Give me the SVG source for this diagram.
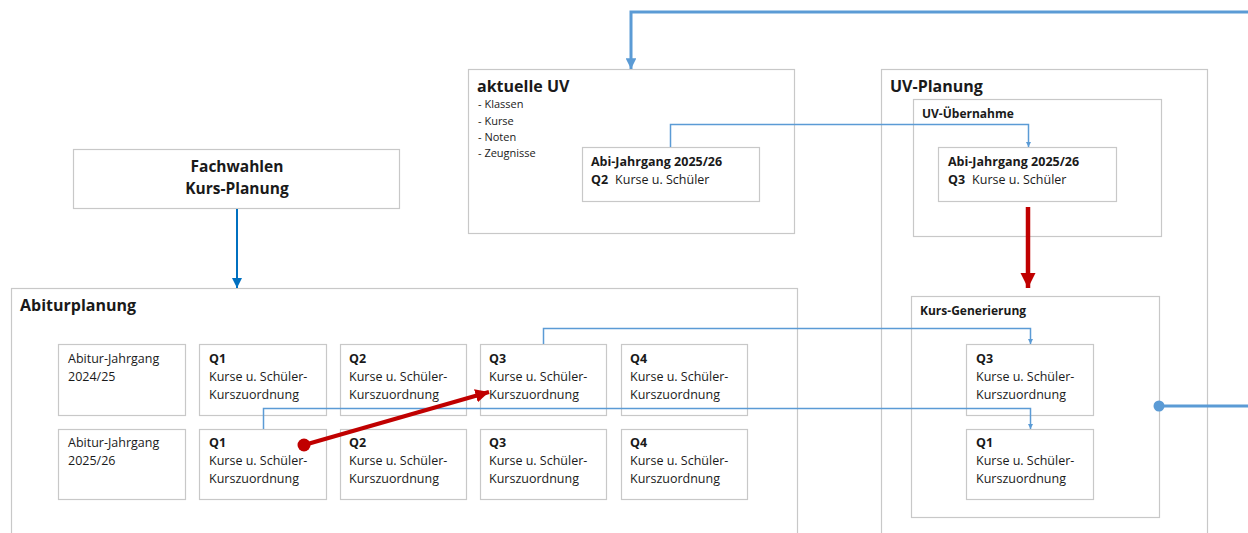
<svg xmlns="http://www.w3.org/2000/svg" width="1248" height="533" viewBox="0 0 1248 533">
<style>
.box{fill:#fff;stroke:#c8c8c8;stroke-width:1.2}
.t{font-family:"Open Sans","Liberation Sans",sans-serif;fill:#1a1a1a}
.n{font-size:12.5px}
.b{font-weight:bold}
.h{font-size:16px;font-weight:bold}
.s{font-size:11px}
.sb{font-size:12px;font-weight:bold}
.bl{fill:none;stroke:#5b9bd5}
</style>
<defs>
<marker id="ab" viewBox="0 0 10 10" refX="10" refY="5" markerWidth="5" markerHeight="5" markerUnits="userSpaceOnUse" orient="auto"><path d="M0,0L10,5L0,10z" fill="#5b9bd5"/></marker>
<marker id="ab2" viewBox="0 0 10 10" refX="10" refY="5" markerWidth="3.6" markerHeight="3.6" orient="auto"><path d="M0,0L10,5L0,10z" fill="#5b9bd5"/></marker>
<marker id="ad" viewBox="0 0 10 10" refX="10" refY="5" markerWidth="5" markerHeight="5" orient="auto"><path d="M0,0L10,5L0,10z" fill="#0070c0"/></marker>
<marker id="ar" viewBox="0 0 10 10" refX="10" refY="5" markerWidth="3.4" markerHeight="3.4" orient="auto"><path d="M0,0L10,5L0,10z" fill="#c00000"/></marker>
</defs>

<g id="fachwahlen">
<rect class="box" x="73.5" y="149.5" width="326" height="59"/>
<text class="t h" x="237" y="172" text-anchor="middle" style="font-size:15.5px">Fachwahlen</text>
<text class="t h" x="237" y="194" text-anchor="middle" style="font-size:15.5px">Kurs-Planung</text>
</g>

<g id="aktuelle-uv">
<rect class="box" x="468.5" y="69.5" width="326" height="164"/>
<text class="t h" x="477" y="92">aktuelle UV</text>
<text class="t s" x="478" y="108">- Klassen</text>
<text class="t s" x="478" y="124.5">- Kurse</text>
<text class="t s" x="478" y="140.5">- Noten</text>
<text class="t s" x="478" y="156.5">- Zeugnisse</text>
</g>
<g id="akt-abi">
<rect class="box" x="582.5" y="147.5" width="177" height="54"/>
<text class="t n b" x="591" y="166">Abi-Jahrgang 2025/26</text>
<text class="t n" x="591" y="184"><tspan class="b">Q2</tspan><tspan dx="7">Kurse u. Schüler</tspan></text>
</g>

<g id="uv-planung">
<rect class="box" x="881.5" y="69.5" width="326" height="470"/>
<text class="t h" x="890" y="92">UV-Planung</text>
</g>
<g id="uv-uebernahme">
<rect class="box" x="913.5" y="99.5" width="248" height="137"/>
<text class="t sb" x="922" y="118">UV-Übernahme</text>
</g>
<g id="uv-abi">
<rect class="box" x="938.5" y="147.5" width="178" height="54"/>
<text class="t n b" x="948" y="166">Abi-Jahrgang 2025/26</text>
<text class="t n" x="948" y="184"><tspan class="b">Q3</tspan><tspan dx="7">Kurse u. Schüler</tspan></text>
</g>
<g id="kurs-generierung">
<rect class="box" x="911.5" y="296.5" width="248" height="221"/>
<text class="t sb" x="920" y="315">Kurs-Generierung</text>
</g>
<g id="kg-q3">
<rect class="box" x="966.5" y="344.5" width="127" height="71"/>
<text class="t n b" x="976" y="363">Q3</text>
<text class="t n" x="976" y="381">Kurse u. Schüler-</text>
<text class="t n" x="976" y="399">Kurszuordnung</text>
</g>
<g id="kg-q1">
<rect class="box" x="966.5" y="429.5" width="127" height="70"/>
<text class="t n b" x="976" y="447">Q1</text>
<text class="t n" x="976" y="465">Kurse u. Schüler-</text>
<text class="t n" x="976" y="483">Kurszuordnung</text>
</g>

<g id="abiturplanung">
<rect class="box" x="11.5" y="288.5" width="786" height="260"/>
<text class="t h" x="20" y="311">Abiturplanung</text>
</g>
<g id="jg-2024">
<rect class="box" x="58.5" y="344.5" width="127" height="71"/>
<text class="t n" x="68" y="363">Abitur-Jahrgang</text>
<text class="t n" x="68" y="381">2024/25</text>
</g>
<g id="r1-q1">
<rect class="box" x="199.5" y="344.5" width="127" height="71"/>
<text class="t n b" x="209" y="363">Q1</text>
<text class="t n" x="209" y="381">Kurse u. Schüler-</text>
<text class="t n" x="209" y="399">Kurszuordnung</text>
</g>
<g id="r1-q2">
<rect class="box" x="340.5" y="344.5" width="126" height="71"/>
<text class="t n b" x="349" y="363">Q2</text>
<text class="t n" x="349" y="381">Kurse u. Schüler-</text>
<text class="t n" x="349" y="399">Kurszuordnung</text>
</g>
<g id="r1-q3">
<rect class="box" x="480.5" y="344.5" width="126" height="71"/>
<text class="t n b" x="489" y="363">Q3</text>
<text class="t n" x="489" y="381">Kurse u. Schüler-</text>
<text class="t n" x="489" y="399">Kurszuordnung</text>
</g>
<g id="r1-q4">
<rect class="box" x="621.5" y="344.5" width="126" height="71"/>
<text class="t n b" x="630" y="363">Q4</text>
<text class="t n" x="630" y="381">Kurse u. Schüler-</text>
<text class="t n" x="630" y="399">Kurszuordnung</text>
</g>
<g id="jg-2025">
<rect class="box" x="58.5" y="429.5" width="127" height="70"/>
<text class="t n" x="68" y="447">Abitur-Jahrgang</text>
<text class="t n" x="68" y="465">2025/26</text>
</g>
<g id="r2-q1">
<rect class="box" x="199.5" y="429.5" width="127" height="70"/>
<text class="t n b" x="209" y="447">Q1</text>
<text class="t n" x="209" y="465">Kurse u. Schüler-</text>
<text class="t n" x="209" y="483">Kurszuordnung</text>
</g>
<g id="r2-q2">
<rect class="box" x="340.5" y="429.5" width="126" height="70"/>
<text class="t n b" x="349" y="447">Q2</text>
<text class="t n" x="349" y="465">Kurse u. Schüler-</text>
<text class="t n" x="349" y="483">Kurszuordnung</text>
</g>
<g id="r2-q3">
<rect class="box" x="480.5" y="429.5" width="126" height="70"/>
<text class="t n b" x="489" y="447">Q3</text>
<text class="t n" x="489" y="465">Kurse u. Schüler-</text>
<text class="t n" x="489" y="483">Kurszuordnung</text>
</g>
<g id="r2-q4">
<rect class="box" x="621.5" y="429.5" width="126" height="70"/>
<text class="t n b" x="630" y="447">Q4</text>
<text class="t n" x="630" y="465">Kurse u. Schüler-</text>
<text class="t n" x="630" y="483">Kurszuordnung</text>
</g>

<g id="connectors">
<path d="M237,209V288" fill="none" stroke="#0070c0" stroke-width="2" marker-end="url(#ad)"/>
<path d="M1248,12H631V69" class="bl" stroke-width="3" marker-end="url(#ab2)"/>
<path d="M670.5,147V124.5H1028.5V147" class="bl" stroke-width="1.5" marker-end="url(#ab)"/>
<path d="M543.5,344V328.5H1030.5V344" class="bl" stroke-width="1.5" marker-end="url(#ab)"/>
<path d="M263.5,429V408.5H1030.5V429" class="bl" stroke-width="1.5" marker-end="url(#ab)"/>
<path d="M1159,406H1248" class="bl" stroke-width="3"/>
<circle cx="1159" cy="406" r="5.5" fill="#5b9bd5"/>
<path d="M1028,207V288" fill="none" stroke="#c00000" stroke-width="4.5" marker-end="url(#ar)"/>
<path d="M304,445L489,392" fill="none" stroke="#c00000" stroke-width="4" marker-end="url(#ar)"/>
<circle cx="304" cy="445" r="6.5" fill="#c00000"/>
</g>
</svg>
